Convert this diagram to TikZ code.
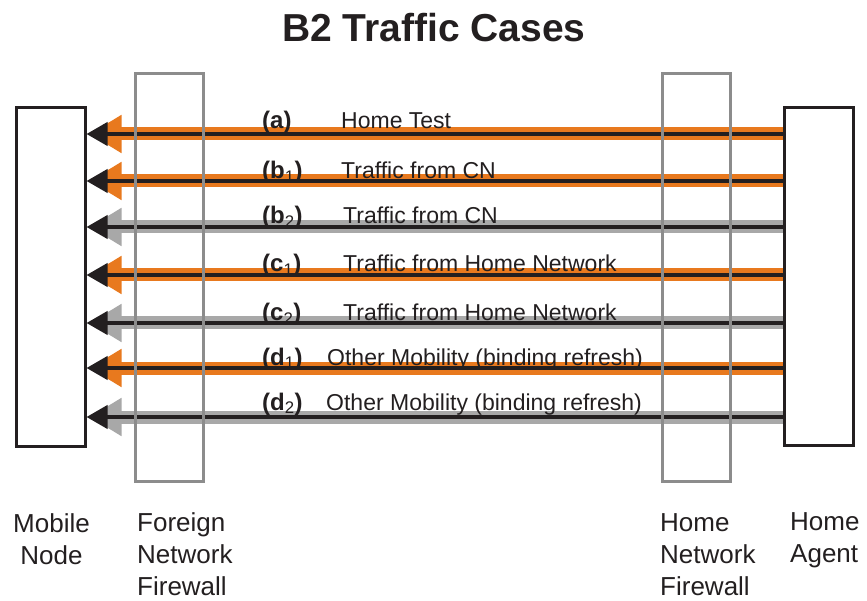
\documentclass[tikz,border=0pt]{standalone}
\usepackage{fontspec}
\setmainfont{Liberation Sans}
\usepackage{tikz}
\usetikzlibrary{arrows.meta,positioning}
\definecolor{inkBlack}{HTML}{231F20}
\definecolor{flowOrange}{HTML}{E8791E}
\definecolor{flowGray}{HTML}{A8A8A8}
\definecolor{wallGray}{HTML}{8C8C8C}

\begin{document}
\begin{tikzpicture}[x=1pt,y=-1pt]
  \tikzstyle{hostBox}=[draw=inkBlack,line width=3pt,minimum width=69pt,minimum height=338pt,inner sep=0pt]
  \tikzstyle{wallBox}=[draw=wallGray,line width=3pt,minimum width=68pt,minimum height=407pt,inner sep=0pt]
  \tikzstyle{orangeFlow}=[draw=inkBlack,line width=4pt,-{Triangle[length=21pt,width=23pt]},preaction={draw=flowOrange,line width=13pt,shorten >=3pt,-{Triangle[length=32pt,width=36pt]}}]
  \tikzstyle{grayFlow}=[draw=inkBlack,line width=4pt,-{Triangle[length=21pt,width=23pt]},preaction={draw=flowGray,line width=13pt,shorten >=3pt,-{Triangle[length=32pt,width=36pt]}}]
  \tikzstyle{caseTag}=[anchor=base west,inner sep=0pt,text=inkBlack,font=\fontsize{24}{24}\selectfont\bfseries]
  \tikzstyle{caseText}=[anchor=base west,inner sep=0pt,text=inkBlack,font=\fontsize{23}{23}\selectfont]
  \tikzstyle{partName}=[anchor=base west,inner sep=0pt,text=inkBlack,align=left,font=\fontsize{26}{32}\selectfont]
  \useasboundingbox (0,0) rectangle (867,601);

  \node[font=\fontsize{39}{39}\selectfont\bfseries,text=inkBlack] (title) at (434,28) {B2 Traffic Cases};

  \node[hostBox] (mn) at (50.5,277) {};
  \node[hostBox] (ha) at (818.5,276.5) {};

  % arrows, home agent to mobile node
  \draw[orangeFlow] (ha.west |- 0,134) -- (mn.east |- 0,134);
  \draw[orangeFlow] (ha.west |- 0,181) -- (mn.east |- 0,181);
  \draw[grayFlow] (ha.west |- 0,227) -- (mn.east |- 0,227);
  \draw[orangeFlow] (ha.west |- 0,275) -- (mn.east |- 0,275);
  \draw[grayFlow] (ha.west |- 0,323) -- (mn.east |- 0,323);
  \draw[orangeFlow] (ha.west |- 0,368) -- (mn.east |- 0,368);
  \draw[grayFlow] (ha.west |- 0,417) -- (mn.east |- 0,417);

  \node[wallBox] (ffw) at (169,277.5) {};
  \node[wallBox] (hfw) at (696,277.5) {};

  \node[caseTag] (tagA) at (262,129) {(a)};
  \node[caseText] (txtA) at (341,129) {Home Test};
  \node[caseTag] (tagBa) at (262,179) {(b\textsubscript{\mdseries 1})};
  \node[caseText] (txtBa) at (341,179) {Traffic from CN};
  \node[caseTag] (tagBb) at (262,224) {(b\textsubscript{\mdseries 2})};
  \node[caseText] (txtBb) at (343,224) {Traffic from CN};
  \node[caseTag] (tagCa) at (262,272) {(c\textsubscript{\mdseries 1})};
  \node[caseText] (txtCa) at (343,272) {Traffic from Home Network};
  \node[caseTag] (tagCb) at (262,321) {(c\textsubscript{\mdseries 2})};
  \node[caseText] (txtCb) at (343,321) {Traffic from Home Network};
  \node[caseTag] (tagDa) at (262,365) {(d\textsubscript{\mdseries 1})};
  \node[caseText] (txtDa) at (327,365) {Other Mobility (binding refresh)};
  \node[caseTag] (tagDb) at (262,410) {(d\textsubscript{\mdseries 2})};
  \node[caseText] (txtDb) at (326,410) {Other Mobility (binding refresh)};

  % names under the boxes, placed by the last line
  \node[partName,align=center] (mnName) at (13,564) {Mobile\\Node};
  \node[partName] (ffwName) at (137,595) {Foreign\\Network\\Firewall};
  \node[partName] (hfwName) at (660,595) {Home\\Network\\Firewall};
  \node[partName] (haName) at (790,562) {Home\\Agent};
\end{tikzpicture}
\end{document}
